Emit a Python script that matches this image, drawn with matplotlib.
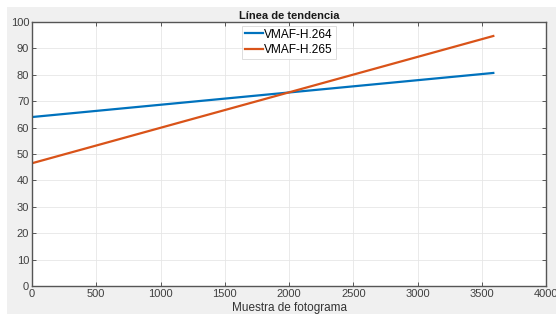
import matplotlib as mpl
mpl.use("Agg")
import matplotlib.pyplot as plt
from matplotlib.patches import Rectangle

# trend lines (start / end points)
frames = [0, 3590]
vmaf_h264 = [64.0, 80.7]
vmaf_h265 = [46.5, 94.7]
series_labels = ["VMAF-H.264", "VMAF-H.265"]
xticks = [0, 500, 1000, 1500, 2000, 2500, 3000, 3500, 4000]
yticks = list(range(0, 101, 10))

plt.rcParams["font.family"] = ["Liberation Sans", "DejaVu Sans"]

fig = plt.figure(figsize=(5.56, 3.14), dpi=100, facecolor="white")
fig.patches.append(Rectangle((7 / 556, 0), 1, 1 - 7 / 314,
                             transform=fig.transFigure,
                             facecolor="#f0f0f0", edgecolor="none", zorder=-10))

ax = fig.add_axes([32 / 556, 1 - 286 / 314, 514 / 556, 264 / 314])
ax.set_facecolor("white")

ax.plot(frames, vmaf_h264, color="#0072BD", lw=1.6, label=series_labels[0])
ax.plot(frames, vmaf_h265, color="#D95319", lw=1.6, label=series_labels[1])

ax.set_xlim(0, 4000)
ax.set_ylim(0, 100)
ax.set_xticks(xticks)
ax.set_yticks(yticks)
ax.grid(True, color="#e6e6e6", lw=0.6)
ax.set_axisbelow(True)
ax.tick_params(direction="in", length=3, width=0.6, labelsize=8,
               colors="#404040", top=True, right=True, pad=2)
for s in ax.spines.values():
    s.set_color("#555555")
    s.set_linewidth(1.0)

ax.set_title("Línea de tendencia", fontsize=8, fontweight="bold",
             color="#1a1a1a", pad=2)
ax.set_xlabel("Muestra de fotograma", fontsize=8.5, color="#333333", labelpad=2)

leg = ax.legend(loc="upper center", bbox_to_anchor=(0.5, 1.0), fontsize=8.6,
                frameon=True, fancybox=False, edgecolor="#cfcfcf",
                handlelength=1.5, handletextpad=0.1, borderpad=0.25,
                labelspacing=0.3, borderaxespad=0.3)
leg.get_frame().set_linewidth(0.6)

fig.savefig("out.png", dpi=100, facecolor="white")
